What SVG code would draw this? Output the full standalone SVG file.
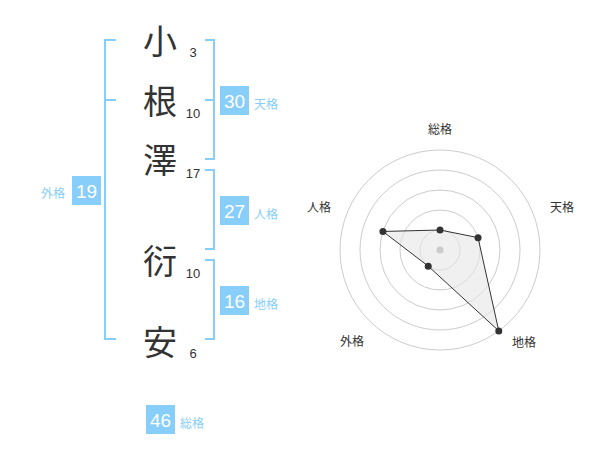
<svg xmlns="http://www.w3.org/2000/svg" width="600" height="470" viewBox="0 0 600 470">
<style>
.kanji{font-family:"Noto Sans CJK JP","Noto Sans CJK SC",sans-serif;font-size:34px;fill:#333;text-anchor:middle}
.strk{font-family:"Liberation Sans",Arial,sans-serif;font-size:13px;fill:#333;text-anchor:middle}
.br{fill:none;stroke:#87cefa;stroke-width:2}
.box{fill:#87cefa}
.bnum{font-family:"Liberation Sans",Arial,sans-serif;font-size:19px;fill:#fff;text-anchor:middle}
.blab{font-family:"Noto Sans CJK JP",sans-serif;font-size:12px;fill:#87cefa}
.ring{fill:none;stroke:#ccc;stroke-width:1}
.rlab{font-family:"Noto Sans CJK JP",sans-serif;font-size:12px;fill:#333;text-anchor:middle}
.pt{fill:#333}
</style>
<rect width="600" height="470" fill="#fff"/>
<g id="names">
<g id="char1"><text class="kanji" x="160" y="54">小</text><text class="strk" x="193" y="57">3</text></g>
<g id="char2"><text class="kanji" x="160" y="114">根</text><text class="strk" x="193" y="117.5">10</text></g>
<g id="char3"><text class="kanji" x="160" y="173">澤</text><text class="strk" x="193" y="178">17</text></g>
<g id="char4"><text class="kanji" x="160" y="274">衍</text><text class="strk" x="193" y="278">10</text></g>
<g id="char5"><text class="kanji" x="160" y="355">安</text><text class="strk" x="193" y="358">6</text></g>
</g>
<g id="connectors">
<path class="br" d="M116,40 H105 V339 H116 M105,100 H116"/>
<path class="br" d="M205,40 H214 V159 H205 M205,100 H214"/>
<path class="br" d="M205,170 H214 V249 H205"/>
<path class="br" d="M205,260 H214 V339 H205"/>
</g>
<g id="gaikaku"><rect class="box" x="72" y="176" width="29" height="29"/><text class="bnum" x="86.5" y="197.5">19</text><text class="blab" x="41" y="198">外格</text></g>
<g id="tenkaku"><rect class="box" x="220" y="86" width="29" height="29"/><text class="bnum" x="234.5" y="107.5">30</text><text class="blab" x="254" y="109">天格</text></g>
<g id="jinkaku"><rect class="box" x="220" y="196" width="29" height="29"/><text class="bnum" x="234.5" y="217.5">27</text><text class="blab" x="254" y="219">人格</text></g>
<g id="chikaku"><rect class="box" x="220" y="286" width="29" height="29"/><text class="bnum" x="234.5" y="307.5">16</text><text class="blab" x="254" y="309">地格</text></g>
<g id="soukaku"><rect class="box" x="146" y="405" width="29" height="29"/><text class="bnum" x="160.5" y="426.5">46</text><text class="blab" x="180" y="428">総格</text></g>
<g id="radar">
<circle class="ring" cx="440" cy="250" r="20"/>
<circle class="ring" cx="440" cy="250" r="40"/>
<circle class="ring" cx="440" cy="250" r="60"/>
<circle class="ring" cx="440" cy="250" r="80"/>
<circle class="ring" cx="440" cy="250" r="100"/>
<polygon points="440,230 478.04,237.64 498.78,330.9 428.24,266.18 382.93,231.46" fill="#e6e6e6" fill-opacity="0.6" stroke="#333" stroke-width="1"/>
<circle cx="440" cy="250" r="3.5" fill="#ccc"/>
<circle class="pt" cx="440" cy="230" r="3.5"/>
<circle class="pt" cx="478.04" cy="237.64" r="3.5"/>
<circle class="pt" cx="498.78" cy="330.9" r="3.5"/>
<circle class="pt" cx="428.24" cy="266.18" r="3.5"/>
<circle class="pt" cx="382.93" cy="231.46" r="3.5"/>
<text class="rlab" x="440" y="134">総格</text>
<text class="rlab" x="562" y="212">天格</text>
<text class="rlab" x="524" y="347">地格</text>
<text class="rlab" x="352" y="346">外格</text>
<text class="rlab" x="319" y="212">人格</text>
</g>
</svg>
